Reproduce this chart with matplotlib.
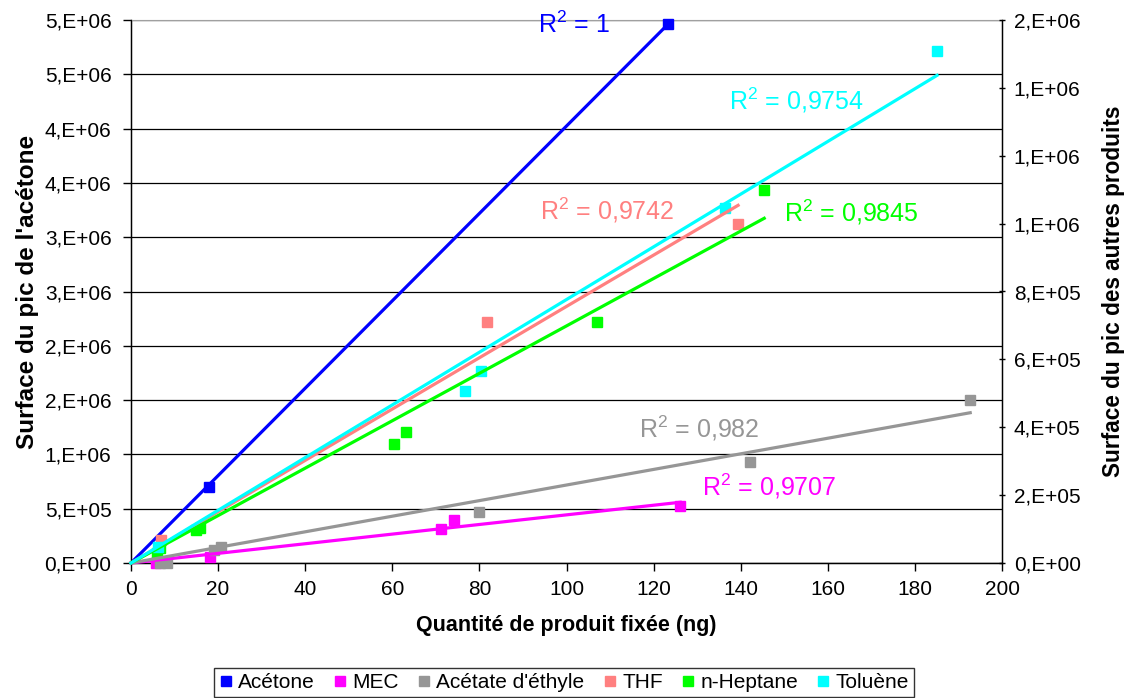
import math
import numpy as np
import matplotlib
matplotlib.use("Agg")
import matplotlib.pyplot as plt
from matplotlib.ticker import FuncFormatter, MultipleLocator
from matplotlib.lines import Line2D

plt.rcParams['font.family'] = ['Liberation Sans', 'DejaVu Sans']
plt.rcParams['mathtext.fontset'] = 'custom'
plt.rcParams['mathtext.rm'] = 'Liberation Sans'
plt.rcParams['mathtext.default'] = 'regular'

# Quantité (ng) / surface du pic
acetone_x = [17.9, 123.2]
acetone_y = [0.70e6, 4.96e6]

mec_x = [5.7, 18.1, 71.1, 74.1, 126.1]
mec_y = [0.0, 0.018e6, 0.100e6, 0.127e6, 0.168e6]

acetate_x = [6.7, 8.3, 19.0, 20.6, 80.0, 142.2, 192.7]
acetate_y = [0.0, 0.0, 0.038e6, 0.047e6, 0.150e6, 0.298e6, 0.480e6]

thf_x = [6.9, 81.7, 139.4]
thf_y = [0.068e6, 0.710e6, 0.999e6]

heptane_x = [6.0, 6.7, 14.9, 15.8, 60.3, 63.1, 107.1, 145.4]
heptane_y = [0.029e6, 0.044e6, 0.097e6, 0.103e6, 0.351e6, 0.386e6, 0.710e6, 1.099e6]

toluene_x = [6.2, 76.8, 80.3, 136.5, 185.1]
toluene_y = [0.047e6, 0.507e6, 0.566e6, 1.046e6, 1.509e6]

names = ["Acétone", "MEC", "Acétate d'éthyle", "THF", "n-Heptane", "Toluène"]
colors = ["#0000FF", "#FF00FF", "#969696", "#FF8080", "#00FF00", "#00FFFF"]
r2_labels = ["1", "0,9707", "0,982", "0,9742", "0,9845", "0,9754"]
# label positions (x in ng, y in left-axis units)
r2_pos = [(101.8, 4.96e6), (146.6, 0.71e6), (130.5, 1.243e6),
          (109.4, 3.25e6), (165.4, 3.23e6), (152.8, 4.26e6)]


def excel_sci(v, pos=None):
    if v <= 0:
        return "0,E+00"
    e = int(math.floor(math.log10(v) + 1e-9))
    m = int(math.floor(v / 10 ** e + 0.5 + 1e-9))
    if m == 10:
        m = 1
        e += 1
    return "%d,E+%02d" % (m, e)


fig = plt.figure(figsize=(11.27, 6.98), dpi=100)
ax = fig.add_axes([131 / 1127, 1 - 563 / 698, (1002 - 131) / 1127, (563 - 20) / 698])
ax2 = ax.twinx()

series = [(acetone_x, acetone_y), (mec_x, mec_y), (acetate_x, acetate_y),
          (thf_x, thf_y), (heptane_x, heptane_y), (toluene_x, toluene_y)]

for i, (xs, ys) in enumerate(series):
    target = ax if i == 0 else ax2
    xs = np.array(xs)
    ys = np.array(ys)
    target.plot(xs, ys, 's', color=colors[i], markersize=6.5, clip_on=False, zorder=3)
    # linear trend forced through zero
    slope = np.sum(xs * ys) / np.sum(xs * xs)
    xl = np.array([0, xs.max()])
    target.plot(xl, slope * xl, '-', color=colors[i], lw=2.3, zorder=4, clip_on=False)
    ax.text(r2_pos[i][0], r2_pos[i][1], "R$^{2}$ = " + r2_labels[i], color=colors[i],
            fontsize=18, ha='center', va='center', zorder=5)

ax.set_xlim(0, 200)
ax.set_ylim(0, 5e6)
ax2.set_ylim(0, 1.6e6)
ax.xaxis.set_major_locator(MultipleLocator(20))
ax.yaxis.set_major_locator(MultipleLocator(5e5))
ax2.yaxis.set_major_locator(MultipleLocator(2e5))
ax.yaxis.set_major_formatter(FuncFormatter(excel_sci))
ax2.yaxis.set_major_formatter(FuncFormatter(excel_sci))

ax.grid(axis='y', color='#000000', lw=0.9)
ax.set_axisbelow(True)
ax.spines['top'].set_color('#a0a0a0')
for s in ['left', 'bottom', 'right']:
    ax.spines[s].set_linewidth(1.0)
ax2.spines['top'].set_visible(False)

ax.tick_params(axis='y', labelsize=15, length=6, width=1, direction='out', pad=8)
ax.tick_params(axis='x', labelsize=15, length=6, width=1, direction='out', pad=6)
ax2.tick_params(axis='y', labelsize=15, length=5, width=1, direction='inout', pad=6)

ax.set_xlabel("Quantité de produit fixée (ng)", fontsize=15.5, fontweight='bold', labelpad=12)
ax.set_ylabel("Surface du pic de l'acétone", fontsize=17.5, fontweight='bold', labelpad=4)
ax2.set_ylabel("Surface du pic des autres produits", fontsize=16.3, fontweight='bold', labelpad=15)

handles = [Line2D([], [], marker='s', ls='none', color=c, markersize=7) for c in colors]
leg = fig.legend(handles, names, loc='upper center', bbox_to_anchor=(0.5005, 0.043),
                 ncol=6, fontsize=15, frameon=True, fancybox=False, edgecolor='black',
                 handlelength=0.6, handletextpad=0.3, columnspacing=0.9, borderpad=0.25,
                 borderaxespad=0)
leg.get_frame().set_linewidth(1.0)

fig.savefig("out.png", dpi=100)
